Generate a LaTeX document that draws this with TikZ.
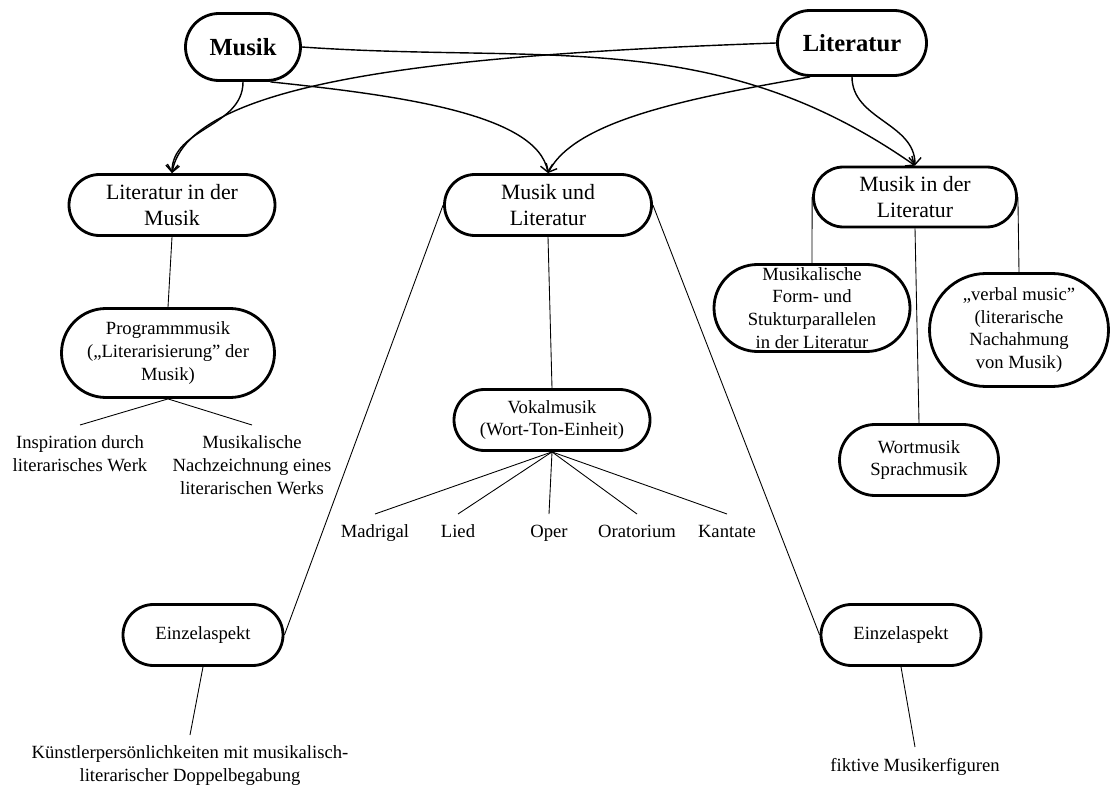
\documentclass[tikz,border=0pt]{standalone}
\usepackage{fontspec}
\setmainfont{Liberation Serif}
\usetikzlibrary{arrows.meta, positioning, calc}

\begin{document}
\begin{tikzpicture}[
  pill/.style n args={3}{draw, line width=1.6pt, rectangle, minimum width=#1, minimum height=#2, rounded corners=#3, inner sep=0pt, align=center},
  mainfont/.style={font=\fontsize{14}{16}\selectfont\bfseries},
  midfont/.style={font=\fontsize{12.4}{14.7}\selectfont},
  subfont/.style={font=\fontsize{10.6}{13}\selectfont},
  leaf/.style={font=\fontsize{10.6}{13}\selectfont, align=center, anchor=north, inner xsep=1pt, inner ysep=6pt},
  arr/.style={-{Straight Barb[length=4pt,width=7pt]}, line width=0.8pt},
  twig/.style={line width=0.5pt},
]
  \useasboundingbox (0,0) rectangle (22.2,-15.74);

  % Top level
  \node[pill={2.30cm}{1.34cm}{0.67cm}, mainfont] (musik) at (4.86,-0.94) {Musik};
  \node[pill={2.98cm}{1.30cm}{0.65cm}, mainfont] (lit) at (17.04,-0.86) {Literatur};

  % Second level
  \node[pill={4.12cm}{1.22cm}{0.61cm}, midfont] (lidm) at (3.44,-4.10) {Literatur in der\\Musik};
  \node[pill={4.14cm}{1.22cm}{0.61cm}, midfont] (mul) at (10.96,-4.10) {Musik und\\Literatur};
  \node[pill={4.06cm}{1.20cm}{0.60cm}, midfont] (midl) at (18.30,-3.94) {Musik in der\\Literatur};

  \draw[arr] (musik.south) to[out=-90, in=90] (lidm.north);
  \draw[arr] ([xshift=0.55cm]musik.south) to[out=-6, in=100, out distance=2.6cm, in distance=1.2cm] (mul.north);
  \draw[arr] (musik.east) to[out=-4, in=145] (midl.north);
  \draw[arr] (lit.west) to[out=182, in=80, out distance=6.5cm, in distance=1.9cm] (lidm.north);
  \draw[arr] ([xshift=-0.84cm]lit.south) to[out=190, in=63, out distance=2.4cm, in distance=1.2cm] (mul.north);
  \draw[arr] (lit.south) to[out=-90, in=90] (midl.north);

  % Literatur in der Musik
  \node[pill={4.26cm}{1.78cm}{0.89cm}, subfont] (prog) at (3.36,-7.06) {Programmmusik\\(„Literarisierung” der\\Musik)};
  \node[leaf] (insp) at (1.60,-8.50) {Inspiration durch\\literarisches Werk};
  \node[leaf] (nachz) at (5.04,-8.50) {Musikalische\\Nachzeichnung eines\\literarischen Werks};
  \draw[twig] (lidm.south) -- (prog.north);
  \draw[twig] (prog.south) -- (insp.north);
  \draw[twig] (prog.south) -- (nachz.north);

  % Musik und Literatur
  \node[pill={3.92cm}{1.22cm}{0.61cm}, subfont] (vokal) at (11.04,-8.40) {Vokalmusik\\(Wort-Ton-Einheit)};
  \draw[twig] (mul.south) -- (vokal.north);
  \foreach \name/\x/\word in {madrigal/7.50/Madrigal, lied/9.16/Lied, oper/10.98/Oper, orat/12.74/Oratorium, kantate/14.54/Kantate} {
    \node[leaf] (\name) at (\x,-10.28) {\word};
    \draw[twig] (vokal.south) -- (\name.north);
  }

  \node[pill={3.20cm}{1.22cm}{0.61cm}, subfont] (einzl) at (4.06,-12.70) {Einzelaspekt};
  \node[pill={3.20cm}{1.22cm}{0.61cm}, subfont] (einzr) at (18.02,-12.70) {Einzelaspekt};
  \node[leaf] (kuenstler) at (3.80,-14.70) {Künstlerpersönlichkeiten mit musikalisch-\\literarischer Doppelbegabung};
  \node[leaf] (fiktiv) at (18.30,-14.94) {fiktive Musikerfiguren};
  \draw[twig] (mul.west) -- (einzl.east);
  \draw[twig] (mul.east) -- (einzr.west);
  \draw[twig] (einzl.south) -- (kuenstler.north);
  \draw[twig] (einzr.south) -- (fiktiv.north);

  % Musik in der Literatur
  \node[pill={3.92cm}{1.74cm}{0.87cm}, subfont] (formpar) at (16.24,-6.16) {Musikalische\\Form- und\\Stukturparallelen\\in der Literatur};
  \node[pill={3.58cm}{2.26cm}{1.13cm}, subfont] (verbal) at (20.38,-6.60) {„verbal music”\\(literarische\\Nachahmung\\von Musik)};
  \node[pill={3.18cm}{1.42cm}{0.71cm}, subfont] (wort) at (18.38,-9.20) {Wortmusik\\Sprachmusik};
  \draw[twig] (midl.west) -- (formpar.north);
  \draw[twig] (midl.south) -- (wort.north);
  \draw[twig] (midl.east) -- (verbal.north);
\end{tikzpicture}
\end{document}
